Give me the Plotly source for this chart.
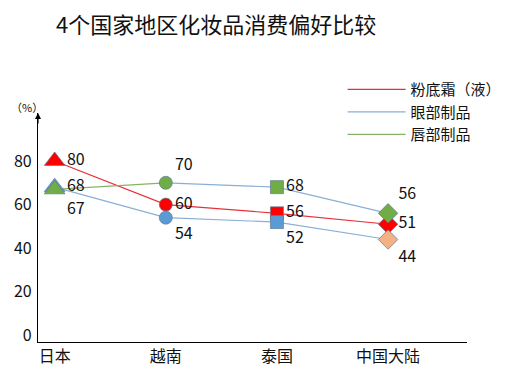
import plotly.graph_objects as go

categories = ["日本", "越南", "泰国", "中国大陆"]
foundation = [80, 60, 56, 51]
eye = [68, 54, 52, 44]
lip = [67, 70, 68, 56]
series_names = ["粉底霜（液）", "眼部制品", "唇部制品"]
y_ticks = [0, 20, 40, 60, 80]

symbols = ["triangle-up", "circle", "square", "diamond"]
RED, BLUE, GREEN, PEACH = "#FF0000", "#5B9BD5", "#70AD47", "#F4B183"
LRED, LBLUE, LGREEN = "#E8303A", "#8AAFD6", "#86B463"

x = list(range(len(categories)))
FONT = "Noto Sans CJK SC, Noto Sans, sans-serif"

fig = go.Figure()

# lines
fig.add_trace(go.Scatter(x=x, y=foundation, mode="lines", name=series_names[0],
                         line=dict(color=LRED, width=1.2)))
fig.add_trace(go.Scatter(x=x, y=eye, mode="lines", name=series_names[1],
                         line=dict(color=LBLUE, width=1.2)))
fig.add_trace(go.Scatter(x=x[:2], y=lip[:2], mode="lines", name=series_names[2],
                         line=dict(color=LGREEN, width=1.2)))
fig.add_trace(go.Scatter(x=x[1:], y=lip[1:], mode="lines", showlegend=False,
                         line=dict(color=LBLUE, width=1.2)))

def markers(vals, colors, positions, sizes):
    fig.add_trace(go.Scatter(
        x=x, y=vals, mode="markers+text", showlegend=False,
        text=[str(v) for v in vals], textposition=positions,
        textfont=dict(size=16, color="#111", family=FONT),
        marker=dict(symbol=symbols, color=colors, size=sizes, opacity=1,
                    line=dict(color="#5F7790", width=0.7)),
        cliponaxis=False))

markers(foundation, [RED, RED, RED, RED],
        ["middle right", "middle right", "middle right", "middle right"], [18, 13, 13, 15])
markers(eye, [BLUE, BLUE, BLUE, PEACH],
        ["middle right", "bottom right", "bottom right", "bottom right"], [18, 13, 13, 15])
markers(lip, [GREEN, GREEN, GREEN, GREEN],
        ["bottom right", "top right", "middle right", "top right"], [18, 13, 13, 15])

fig.update_layout(
    width=523, height=384,
    margin=dict(l=30, r=64, t=105, b=50, autoexpand=False),
    paper_bgcolor="white", plot_bgcolor="white",
    font=dict(family=FONT, color="#111", size=15),
    title=dict(text="4个国家地区化妆品消费偏好比较", x=48/523, xanchor="left",
               xref="container", y=1-17/384, yanchor="middle", yref="container",
               font=dict(size=22, color="#111", family=FONT)),
    showlegend=True,
    legend=dict(x=0.71, y=1.174, xanchor="left", yanchor="top",
                bgcolor="rgba(0,0,0,0)", font=dict(size=15, family=FONT),
                tracegroupgap=0, itemwidth=58),
    xaxis=dict(tickmode="array", tickvals=x, ticktext=categories,
               range=[-0.15, 3.71], showline=True, linecolor="#000", linewidth=1.2,
               showgrid=False, zeroline=False, ticks="", automargin=False,
               tickfont=dict(size=16, family=FONT)),
    yaxis=dict(tickmode="array", tickvals=y_ticks, range=[-3, 102],
               showline=True, linecolor="#000", linewidth=1.2,
               showgrid=False, zeroline=False, ticks="", automargin=False,
               ticklabelstandoff=2,
               tickfont=dict(size=16, family=FONT)),
    annotations=[
        dict(x=0, y=1, xref="paper", yref="paper", ax=0, ay=12, axref="pixel",
             ayref="pixel", showarrow=True, arrowhead=2, arrowsize=1, arrowwidth=1.2,
             arrowcolor="#000", text=""),
        dict(x=-29/429, y=1.026, xref="paper", yref="paper", xanchor="left",
             yanchor="middle", text="（%）", showarrow=False,
             font=dict(size=11, family=FONT, color="#111")),
    ],
)

fig.write_html("out.html")
